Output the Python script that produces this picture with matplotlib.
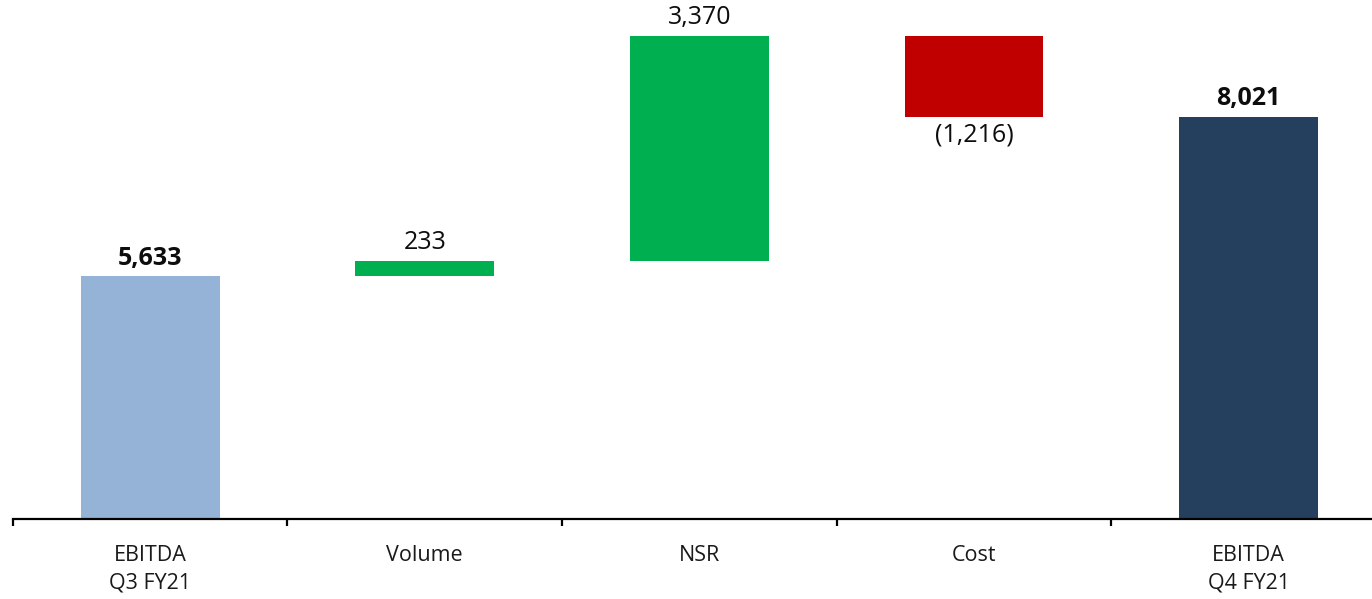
import matplotlib.pyplot as plt
import matplotlib.ticker as mticker

# EBITDA bridge, Q3 FY21 -> Q4 FY21
categories = ["EBITDA\nQ3 FY21", "Volume", "NSR", "Cost", "EBITDA\nQ4 FY21"]
values = [5633, 233, 3370, -1216, 8021]
is_total = [True, False, False, False, True]
labels = ["5,633", "233", "3,370", "(1,216)", "8,021"]

colors = {"start": "#95B3D7", "end": "#253F5F", "up": "#00B050", "down": "#C00000"}

plt.rcParams['font.family'] = ['Open Sans', 'DejaVu Sans']

fig = plt.figure(figsize=(13.72, 5.99), dpi=100)
ax = fig.add_axes([12.7 / 1372, 80 / 599, 1373.3 / 1372, 519 / 599])

running = 0
for i, (v, tot) in enumerate(zip(values, is_total)):
    if tot:
        bottom, height = 0, v
        running = v
        col = colors["start"] if i == 0 else colors["end"]
    else:
        bottom = running if v >= 0 else running + v
        height = abs(v)
        running += v
        col = colors["up"] if v >= 0 else colors["down"]
    ax.bar(i, height, bottom=bottom, width=0.506, color=col, zorder=2)

    weight = 'bold' if tot else 'normal'
    if v >= 0:
        ax.annotate(labels[i], (i, bottom + height), xytext=(0, 4),
                    textcoords='offset points', ha='center', va='bottom',
                    fontsize=18, fontweight=weight, color='#0d0d0d')
    else:
        ax.annotate(labels[i], (i, bottom), xytext=(0, -4),
                    textcoords='offset points', ha='center', va='top',
                    fontsize=18, fontweight=weight, color='#0d0d0d')

ax.set_xlim(-0.5, 4.5)
ax.set_ylim(2000, 9770)

for s in ['top', 'right', 'left']:
    ax.spines[s].set_visible(False)
ax.spines['bottom'].set_linewidth(1.6)
ax.spines['bottom'].set_zorder(3)
ax.set_yticks([])

ax.set_xticks(range(len(categories)))
ax.set_xticklabels(categories, fontsize=15.5, color='#1a1a1a', linespacing=1.4)
ax.tick_params(axis='x', which='major', length=0, pad=19)
ax.xaxis.set_minor_locator(mticker.FixedLocator([-0.5, 0.5, 1.5, 2.5, 3.5, 4.5]))
ax.tick_params(axis='x', which='minor', length=5, width=1.6, direction='out')

fig.savefig("out.png", dpi=100)
